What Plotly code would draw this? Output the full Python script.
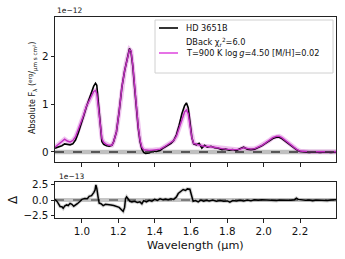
import plotly.graph_objects as go

# ---- data (flux in units of 1e-12, residual in units of 1e-13) ----
wl = [0.852, 0.87, 0.89, 0.905, 0.92, 0.935, 0.95, 0.965, 0.98, 0.995, 1.01, 1.025, 1.04, 1.055,
      1.065, 1.075, 1.082, 1.09, 1.10, 1.11, 1.12, 1.135, 1.15, 1.165, 1.175, 1.19, 1.205, 1.22,
      1.235, 1.25, 1.262, 1.27, 1.28, 1.29, 1.30, 1.31, 1.32, 1.33, 1.34, 1.35, 1.37, 1.39, 1.41,
      1.43, 1.45, 1.47, 1.49, 1.505, 1.52, 1.535, 1.55, 1.565, 1.575, 1.585, 1.595, 1.605, 1.615,
      1.63, 1.645, 1.66, 1.675, 1.69, 1.71, 1.73, 1.75, 1.77, 1.79, 1.81, 1.83, 1.85, 1.87, 1.89,
      1.91, 1.93, 1.95, 1.97, 1.99, 2.01, 2.03, 2.05, 2.07, 2.085, 2.10, 2.12, 2.14, 2.16, 2.18,
      2.20, 2.22, 2.25, 2.28, 2.31, 2.34, 2.37, 2.398]
obs_flux = [0.08, 0.10, 0.13, 0.17, 0.16, 0.15, 0.17, 0.25, 0.40, 0.56, 0.76, 0.95, 1.12, 1.25,
            1.38, 1.44, 1.40, 1.05, 0.55, 0.22, 0.16, 0.13, 0.12, 0.14, 0.22, 0.42, 0.85, 1.36,
            1.70, 1.98, 2.17, 2.10, 1.80, 1.35, 0.90, 0.50, 0.22, 0.06, -0.01, -0.03, -0.02, 0.02, 0.01,
            0.03, 0.09, 0.14, 0.18, 0.24, 0.36, 0.56, 0.80, 0.97, 1.03, 0.93, 0.60, 0.30, 0.17,
            0.15, 0.18, 0.08, 0.14, 0.10, 0.12, 0.09, 0.08, 0.05, 0.06, 0.04, 0.05, 0.03, 0.07, 0.10,
            0.06, 0.05, 0.06, 0.09, 0.13, 0.18, 0.23, 0.28, 0.31, 0.31, 0.28, 0.22, 0.16, 0.10, 0.05,
            0.01, 0.00, -0.01, 0.00, -0.01, 0.00, -0.01, 0.00]
model_flux = [0.10, 0.15, 0.22, 0.27, 0.23, 0.21, 0.24, 0.32, 0.46, 0.60, 0.78, 0.96, 1.08, 1.18,
              1.27, 1.29, 1.22, 0.95, 0.55, 0.28, 0.20, 0.16, 0.14, 0.14, 0.22, 0.42, 0.85, 1.36,
              1.70, 1.98, 2.15, 2.12, 1.82, 1.38, 0.92, 0.52, 0.24, 0.10, 0.05, 0.04, 0.03, 0.04, 0.05,
              0.06, 0.10, 0.15, 0.19, 0.24, 0.33, 0.50, 0.70, 0.84, 0.88, 0.80, 0.55, 0.30, 0.18,
              0.16, 0.14, 0.13, 0.12, 0.12, 0.11, 0.10, 0.08, 0.07, 0.06, 0.05, 0.05, 0.05, 0.06, 0.09,
              0.07, 0.06, 0.07, 0.10, 0.14, 0.19, 0.24, 0.30, 0.33, 0.33, 0.30, 0.24, 0.17, 0.11, 0.06,
              0.02, 0.01, 0.005, 0.005, 0.005, 0.005, 0.005, 0.005]

wl_res = [0.852, 0.865, 0.88, 0.89, 0.897, 0.905, 0.916, 0.925, 0.935, 0.945, 0.955, 0.962, 0.975,
          0.99, 1.0, 1.016, 1.03, 1.04, 1.053, 1.065, 1.072, 1.077, 1.082, 1.09, 1.095, 1.105, 1.117,
          1.13, 1.145, 1.16, 1.175, 1.19, 1.205, 1.215, 1.227, 1.235, 1.24, 1.246, 1.255, 1.264,
          1.275, 1.29, 1.305, 1.319, 1.33, 1.34, 1.355, 1.37, 1.385, 1.40, 1.415, 1.43, 1.445, 1.46,
          1.475, 1.49, 1.505, 1.52, 1.53, 1.545, 1.557, 1.57, 1.58, 1.594, 1.603, 1.612, 1.625,
          1.64, 1.655, 1.67, 1.685, 1.70, 1.72, 1.74, 1.76, 1.78, 1.80, 1.814, 1.83, 1.85, 1.87,
          1.89, 1.91, 1.93, 1.95, 1.97, 1.99, 2.01, 2.03, 2.05, 2.07, 2.09, 2.11, 2.13, 2.15, 2.17,
          2.18, 2.19, 2.21, 2.23, 2.25, 2.27, 2.29, 2.31, 2.33, 2.35, 2.37, 2.398]
residual = [0.1, -0.3, -1.05, -1.1, -1.35, -1.0, -0.8, -0.9, -0.55, -0.7, -1.0, -0.9, -0.6,
            -0.2, 0.1, 0.25, 0.2, 0.6, 0.7, 1.2, 1.6, 2.45, 1.9, 0.3, -0.5, -0.6, -0.9,
            -0.7, -0.7, -0.8, -0.9, -1.0, -1.2, -1.5, -1.85, -1.2, 0.2, 0.5, 0.1, -0.2,
            -0.3, -0.2, -0.4, -0.3, -0.6, -0.1, -0.3, -0.05, -0.2, 0.1, -0.05, 0.2, 0.05, 0.15,
            0.05, 0.2, 0.1, 0.5, 1.05, 1.4, 1.7, 1.55, 1.8, 1.75, 0.6, -0.2, -0.1,
            -0.3, 0.0, -0.2, -0.05, -0.15, 0.0, -0.2, -0.1, -0.2, -0.15, -0.35, -0.1, -0.15, -0.05,
            -0.15, 0.0, -0.1, 0.05, -0.05, 0.05, 0.0, -0.05, 0.0, -0.1, 0.0, -0.05, 0.0, -0.05, 0.05,
            0.3, 0.1, 0.0, -0.05, 0.0, -0.1, 0.0, -0.05, 0.0, -0.1, 0.0, 0.05]

x_ticks = [1.0, 1.2, 1.4, 1.6, 1.8, 2.0, 2.2]
obs_name = "HD 3651B"
fit_name = "DBack χ<sub>r</sub><sup>2</sup>=6.0"
model_name = "T=900 K log\u2009<i>g</i>=4.50 [M/H]=0.02"

BLACK = "#000000"
MAG = "#c02cc0"
FONT = "DejaVu Sans"

fig = go.Figure()
# zero-level bands (grey) and model spread (light magenta)
fig.add_trace(go.Scatter(x=[wl[0], wl[-1]], y=[0, 0], mode="lines",
                         line=dict(color="rgba(150,150,150,0.6)", width=4.5), xaxis="x", yaxis="y",
                         hoverinfo="skip"))
fig.add_trace(go.Scatter(x=wl, y=model_flux, mode="lines",
                         line=dict(color="rgba(220,120,220,0.45)", width=4.5), xaxis="x", yaxis="y",
                         hoverinfo="skip"))
fig.add_trace(go.Scatter(x=wl, y=obs_flux, mode="lines", name=obs_name,
                         line=dict(color=BLACK, width=1.6), xaxis="x", yaxis="y"))
fig.add_trace(go.Scatter(x=wl, y=model_flux, mode="lines", name=model_name,
                         line=dict(color=MAG, width=1.4), xaxis="x", yaxis="y"))
fig.add_trace(go.Scatter(x=[wl[0], wl[-1]], y=[0, 0], mode="lines",
                         line=dict(color="#333333", width=1.3, dash="dash"), xaxis="x", yaxis="y"))

fig.add_trace(go.Scatter(x=[wl_res[0], wl_res[-1]], y=[0, 0], mode="lines",
                         line=dict(color="rgba(160,160,160,0.6)", width=4), xaxis="x2", yaxis="y2",
                         hoverinfo="skip"))
fig.add_trace(go.Scatter(x=wl_res, y=residual, mode="lines",
                         line=dict(color="rgba(170,170,170,0.5)", width=3.5), xaxis="x2", yaxis="y2",
                         hoverinfo="skip"))
fig.add_trace(go.Scatter(x=[wl_res[0], wl_res[-1]], y=[0, 0], mode="lines",
                         line=dict(color="#333333", width=1.1, dash="dash"), xaxis="x2", yaxis="y2"))
fig.add_trace(go.Scatter(x=wl_res, y=residual, mode="lines",
                         line=dict(color=BLACK, width=1.5), xaxis="x2", yaxis="y2"))

W, H = 345, 259
L, R, T, B = 55, 9, 17, 41
pw, ph = W - L - R, H - T - B


def px(xp):
    return (xp - L) / pw


def py(yp):
    return (H - B - yp) / ph


axis_common = dict(showline=True, linecolor="#222222", linewidth=1, mirror=True,
                   ticks="outside", ticklen=3.5, tickwidth=0.8, tickcolor="#222222",
                   showgrid=False, zeroline=False, automargin=False,
                   tickfont=dict(family=FONT, size=10.3, color="#111111"))

fig.update_layout(
    width=W, height=H, margin=dict(l=L, r=R, t=T, b=B),
    paper_bgcolor="white", plot_bgcolor="white", showlegend=False,
    font=dict(family=FONT, color="#111111"),
    xaxis=dict(domain=[0, 1], anchor="y", range=[0.852, 2.398], tickvals=x_ticks,
               showticklabels=False, **axis_common),
    yaxis=dict(domain=[py(162), 1], anchor="x", range=[-0.21, 2.83], tickvals=[0, 1, 2],
               **axis_common),
    xaxis2=dict(domain=[0, 1], anchor="y2", range=[0.852, 2.398], tickvals=x_ticks,
                tickformat=".1f", ticklabelstandoff=0, **axis_common),
    yaxis2=dict(domain=[0, py(182)], anchor="x2", range=[-2.92, 2.92], tickvals=[-2.5, 0, 2.5],
                tickformat=".1f", **axis_common),
)

# legend box (manual)
fig.add_shape(type="rect", xref="paper", yref="paper", x0=px(155), x1=px(333), y0=py(73), y1=py(20),
              line=dict(color="#d0d0d0", width=1), fillcolor="rgba(255,255,255,0.85)", layer="above")
fig.add_shape(type="line", xref="paper", yref="paper", x0=px(159), x1=px(178), y0=py(28), y1=py(28),
              line=dict(color=BLACK, width=1.6), layer="above")
fig.add_shape(type="line", xref="paper", yref="paper", x0=px(159), x1=px(178), y0=py(53), y1=py(53),
              line=dict(color="#e050e0", width=1.6), layer="above")
for txt, yy in [(obs_name, 28), (fit_name, 43), (model_name, 53)]:
    fig.add_annotation(text=txt, xref="paper", yref="paper", x=px(184), y=py(yy), xanchor="left",
                       yanchor="middle", showarrow=False, font=dict(family=FONT, size=8.2, color="#111111"))

# offset labels
fig.add_annotation(text="1e−12", xref="paper", yref="paper", x=px(55), y=py(11), xanchor="left",
                   yanchor="middle", showarrow=False, font=dict(family=FONT, size=7.5, color="#111111"))
fig.add_annotation(text="1e−13", xref="paper", yref="paper", x=px(57), y=py(176), xanchor="left",
                   yanchor="middle", showarrow=False, font=dict(family=FONT, size=7.5, color="#111111"))

# axis titles
fig.add_annotation(text="Absolute F<sub>λ</sub> (<sup>erg</sup>/<sub>μm s cm²</sub>)", xref="paper",
                   yref="paper", x=px(33), y=py(88), textangle=-90, showarrow=False,
                   xanchor="center", yanchor="middle", font=dict(family=FONT, size=8, color="#111111"))
fig.add_annotation(text="Δ", xref="paper", yref="paper", x=px(13), y=py(200), textangle=-90,
                   showarrow=False, xanchor="center", yanchor="middle",
                   font=dict(family=FONT, size=12, color="#111111"))
fig.add_annotation(text="Wavelength (μm)", xref="paper", yref="paper", x=px(195), y=py(245),
                   showarrow=False, xanchor="center", yanchor="middle",
                   font=dict(family=FONT, size=11.2, color="#111111"))

fig.write_html("out.html", config={"displayModeBar": False},
               post_script="document.body.style.margin='0';document.body.style.padding='0';")
